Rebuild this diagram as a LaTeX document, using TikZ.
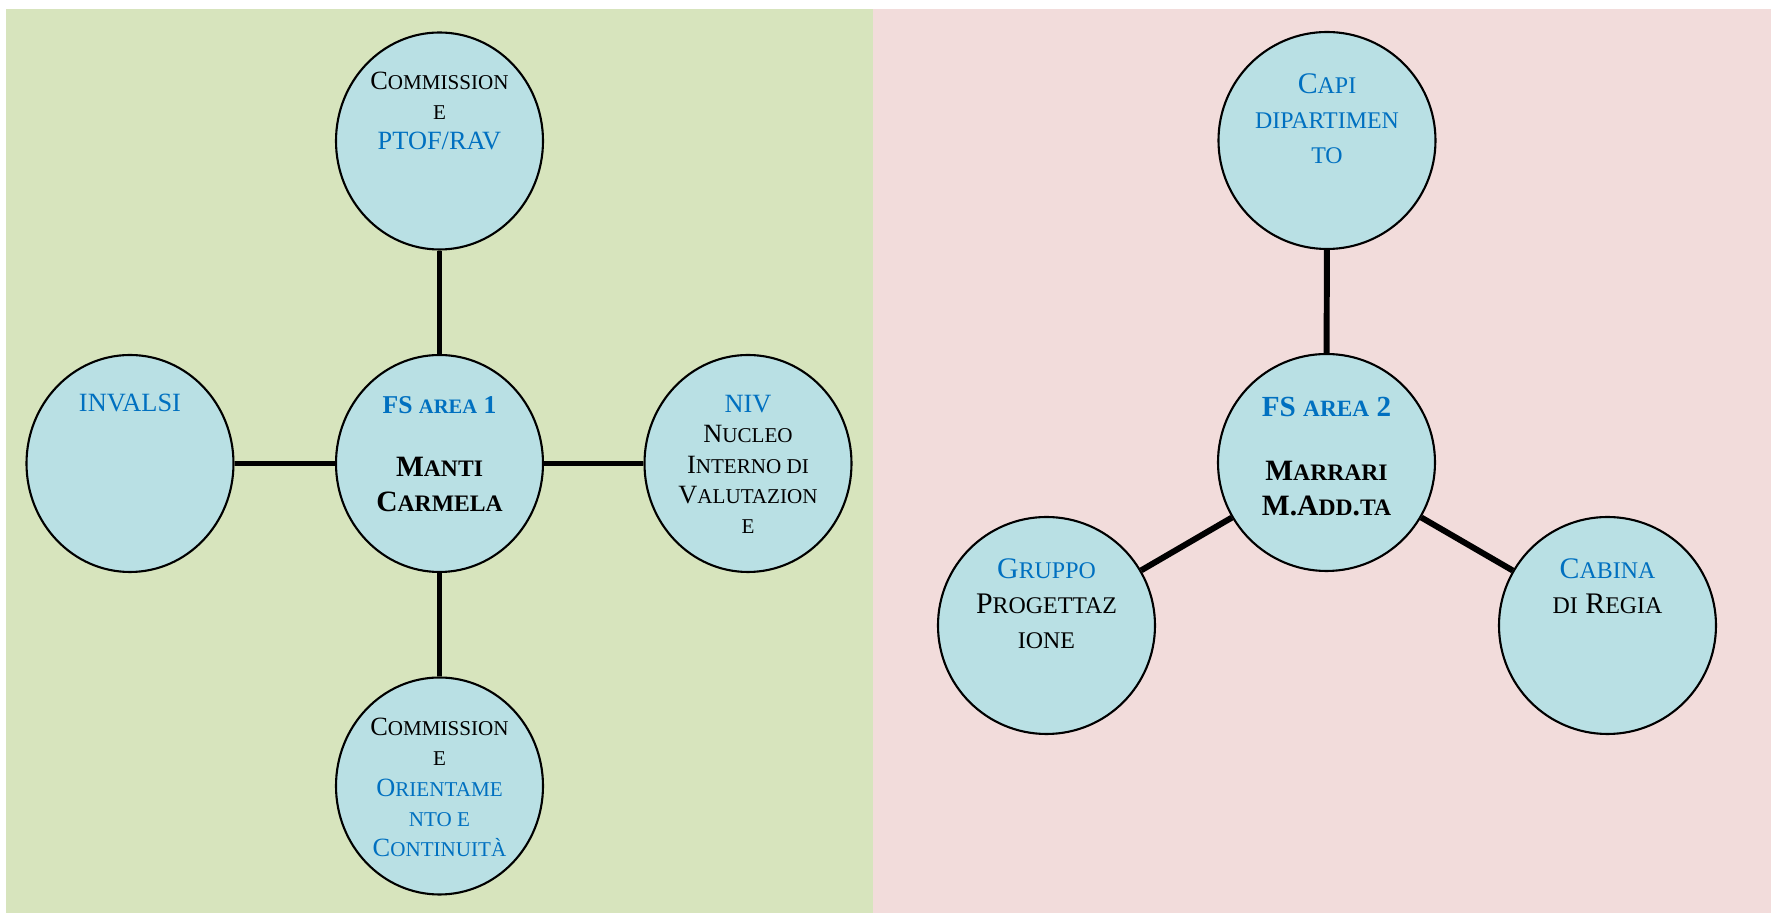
\documentclass[tikz,border=0pt]{standalone}
\usepackage{fontspec}
\setmainfont{Liberation Serif}
\usetikzlibrary{shapes.geometric}
\definecolor{leftbg}{HTML}{D7E4BD}
\definecolor{rightbg}{HTML}{F2DCDB}
\definecolor{bubblefill}{HTML}{B9E0E4}
\definecolor{fsblue}{HTML}{0070C0}
\makeatletter
\newcommand\sm[1]{{\@tempdima=\f@size pt\@tempdima=0.8\@tempdima\fontsize{\strip@pt\@tempdima}{\f@baselineskip}\selectfont #1}}
\makeatother
\tikzset{
  oval/.style={ellipse,draw,line width=0.6pt,fill=bubblefill,minimum width=2.07cm,minimum height=2.17cm,inner sep=0pt},
  round/.style={circle,draw,line width=0.6pt,fill=bubblefill,minimum size=2.17cm,inner sep=0pt},
  link/.style={line width=1.7pt},
  txtl/.style={align=center,inner sep=0pt,anchor=base,font=\fontsize{7.5}{8.65}\selectfont},
  txtr/.style={align=center,inner sep=0pt,anchor=base,font=\fontsize{8.5}{9.96}\selectfont},
  txtc/.style={align=center,inner sep=0pt,anchor=base,font=\bfseries\fontsize{8.4}{9.96}\selectfont}
}
\begin{document}
\begin{tikzpicture}
	\useasboundingbox (0,0) rectangle (17.71,-9.13);
	\fill[leftbg] (0.06,-0.09) rectangle (8.73,-9.13);
	\fill[rightbg] (8.73,-0.09) rectangle (17.71,-9.13);

	% area 1
	\node[oval] (area1) at (4.395,-4.635) {};
	\node[oval] (ptof) at (4.395,-1.41) {};
	\node[oval] (invalsi) at (1.30,-4.635) {};
	\node[oval] (niv) at (7.48,-4.635) {};
	\node[oval] (orient) at (4.395,-7.86) {};

	\draw[link] (area1) -- (ptof);
	\draw[link] (area1) -- (invalsi);
	\draw[link] (area1) -- (niv);
	\draw[link] (area1) -- (orient);

	% text sits on its last line
	\node[txtc] (area1t) at (4.395,-5.12) {\textcolor{fsblue}{\fontsize{7.3}{9.96}\selectfont FS \sm{AREA} 1}\\[0.28cm] M\sm{ANTI}\\ C\sm{ARMELA}};
	\node[txtl] (ptoft) at (4.395,-1.50) {C\sm{OMMISSION}\\ \sm{E}\\ \textcolor{fsblue}{PTOF/RAV}};
	\node[txtl,text=fsblue] (invalsit) at (1.30,-4.12) {INVALSI};
	\node[txtl] (nivt) at (7.48,-5.34) {\textcolor{fsblue}{NIV}\\ N\sm{UCLEO}\\ I\sm{NTERNO DI}\\ V\sm{ALUTAZION}\\ \sm{E}};
	\node[txtl] (orientt) at (4.395,-8.57) {C\sm{OMMISSION}\\ \sm{E}\\ \textcolor{fsblue}{O\sm{RIENTAME}}\\ \textcolor{fsblue}{\sm{NTO E}}\\ \textcolor{fsblue}{C\sm{ONTINUITÀ}}};

	% area 2
	\node[round] (area2) at (13.265,-4.625) {};
	\node[round] (capi) at (13.27,-1.405) {};
	\node[round] (gruppo) at (10.465,-6.255) {};
	\node[round] (cabina) at (16.075,-6.255) {};

	\draw[link] (area2) -- (capi);
	\draw[link] (area2) -- (gruppo);
	\draw[link] (area2) -- (cabina);

	\node[txtc] (area2t) at (13.265,-5.16) {\textcolor{fsblue}{\fontsize{8.3}{9.96}\selectfont FS \sm{AREA} 2}\\[0.29cm] M\sm{ARRARI}\\ M.A\sm{DD}.\sm{TA}};
	\node[txtr,text=fsblue] (capit) at (13.27,-1.632) {C\sm{API}\\ \sm{DIPARTIMEN}\\ \sm{TO}};
	\node[txtr] (gruppot) at (10.465,-6.482) {\textcolor{fsblue}{G\sm{RUPPO}}\\ P\sm{ROGETTAZ}\\ \sm{IONE}};
	\node[txtr] (cabinat) at (16.075,-6.131) {\textcolor{fsblue}{C\sm{ABINA}}\\ \sm{DI} R\sm{EGIA}};
\end{tikzpicture}
\end{document}
